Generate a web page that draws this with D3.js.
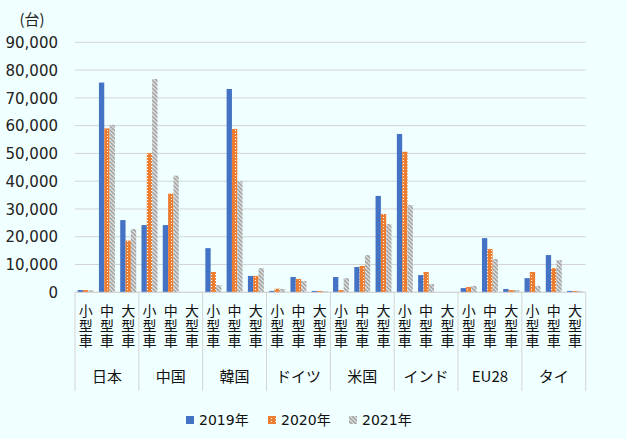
<!DOCTYPE html>
<html><head><meta charset="utf-8">
<script src="https://cdn.jsdelivr.net/npm/d3@7"></script>
<style>html,body{margin:0;padding:0;background:#f0ffff;}svg{display:block;}</style>
</head><body>
<svg id="c" width="627" height="439"></svg>
<script>
const countries = ["日本","中国","韓国","ドイツ","米国","インド","EU28","タイ"];
const types = ["小型車","中型車","大型車"];
const seriesNames = ["2019年","2020年","2021年"];
// order: country x type (小,中,大)
const v2019 = [800,75500,26000, 24200,24200,0, 15900,73200,5900, 500,5500,500, 5500,9100,34700, 57000,6200,0, 1500,19500,1200, 5100,13400,500];
const v2020 = [800,59000,18600, 50100,35500,0, 7300,58800,5900, 1300,4800,500, 800,9500,28200, 50600,7300,0, 1900,15600,800, 7300,8700,500];
const v2021 = [700,60300,22800, 76800,42000,0, 2600,40000,8700, 1200,4100,400, 5100,13400,24600, 31400,3000,0, 2300,12000,800, 2300,11600,400];
const yTicks = [0,10000,20000,30000,40000,50000,60000,70000,80000,90000];

const svg = d3.select("#c");
const W = 627, H = 439;
svg.append("rect").attr("width",W).attr("height",H).attr("fill","#f0ffff");
const L = 75, R = 585.7, T = 42.3, B = 292.3;

const defs = svg.append("defs");
const po = defs.append("pattern").attr("id","pOr").attr("patternUnits","userSpaceOnUse").attr("width",4).attr("height",3);
po.append("rect").attr("width",4).attr("height",3).attr("fill","#ED7D31");
po.append("rect").attr("x",3).attr("y",1).attr("width",1).attr("height",1).attr("fill","#ffffff");
const pg = defs.append("pattern").attr("id","pGr").attr("patternUnits","userSpaceOnUse").attr("width",4).attr("height",4);
pg.append("rect").attr("width",4).attr("height",4).attr("fill","#e4e8e8");
pg.append("path").attr("d","M-1,-1 L5,5 M-1,3 L1,5 M3,-1 L5,1").attr("stroke","#A5A5A5").attr("stroke-width",1.6);

const fills = ["#4472C4","url(#pOr)","url(#pGr)"];

const cats = [];
countries.forEach(c => types.forEach(t => cats.push(c + "|" + t)));
const x = d3.scaleBand().domain(cats).range([L, R]).padding(0);
const xg = d3.scaleBand().domain(countries).range([L, R]).padding(0);
const xs = d3.scaleBand().domain(seriesNames).range([0, x.bandwidth()]).paddingInner(0).paddingOuter(0.5);
const y = d3.scaleLinear().domain([0, 90000]).range([B, T]);

// gridlines
svg.append("g").selectAll("line").data(yTicks).join("line")
  .attr("x1", L).attr("x2", R).attr("y1", d => y(d)).attr("y2", d => y(d))
  .attr("stroke", "#d4d4d4").attr("stroke-width", 1);

// y axis labels
const yAxis = d3.axisLeft(y).tickValues(yTicks).tickFormat(d3.format(",")).tickSize(0).tickPadding(0);
const ya = svg.append("g").attr("transform", `translate(58,0)`).call(yAxis);
ya.select(".domain").remove();
ya.selectAll("text").attr("font-family", "'DejaVu Sans', sans-serif").attr("font-size", 15).attr("fill", "#222").attr("dy","0.35em");

svg.append("text").attr("x", 32).attr("y", 20).attr("dy","0.35em").attr("text-anchor","middle")
  .attr("font-family","'Noto Sans CJK JP', sans-serif").attr("font-size",15).attr("fill","#222").text("(台)");

// bars
const allVals = [v2019, v2020, v2021];
allVals.forEach((vals, si) => {
  svg.append("g").selectAll("rect").data(cats.map((c,i)=>({c, v: vals[i]}))).join("rect")
    .attr("x", d => x(d.c) + xs(seriesNames[si]))
    .attr("width", xs.bandwidth())
    .attr("y", d => y(d.v))
    .attr("height", d => B - y(d.v))
    .attr("fill", fills[si]);
});

// bottom axis line & separators
svg.append("line").attr("x1",L).attr("x2",R).attr("y1",B).attr("y2",B).attr("stroke","#d4d4d4");
const seps = countries.map(c => xg(c)).concat([R]);
svg.append("g").selectAll("line").data(seps).join("line")
  .attr("x1", d=>d).attr("x2", d=>d).attr("y1", B).attr("y2", 391)
  .attr("stroke","#d4d4d4");

// category labels (vertical)
const lab = svg.append("g").attr("font-family","'Noto Sans CJK JP', sans-serif").attr("font-size",14).attr("fill","#111");
cats.forEach(c => {
  const t = c.split("|")[1];
  const cx = x(c) + x.bandwidth()/2;
  lab.append("text").attr("x", cx).attr("y", 304)
    .attr("writing-mode","vertical-rl").style("text-orientation","upright")
    .attr("letter-spacing", 1).attr("text-anchor","start").text(t);
});
countries.forEach(c => {
  lab.append("text").attr("x", xg(c) + xg.bandwidth()/2).attr("y", 377).attr("dy","0.35em")
    .attr("text-anchor","middle").attr("font-size",15).text(c);
});

// legend
const lg = svg.append("g").attr("font-family","'DejaVu Sans','Noto Sans CJK JP', sans-serif").attr("font-size",14).attr("fill","#111");
const lx = [186, 268, 349];
seriesNames.forEach((s, i) => {
  lg.append("rect").attr("x", lx[i]).attr("y", 416).attr("width", 8).attr("height", 8).attr("fill", fills[i]);
  lg.append("text").attr("x", lx[i] + 13).attr("y", 420).attr("dy","0.35em").text(s);
});
</script>
</body></html>
